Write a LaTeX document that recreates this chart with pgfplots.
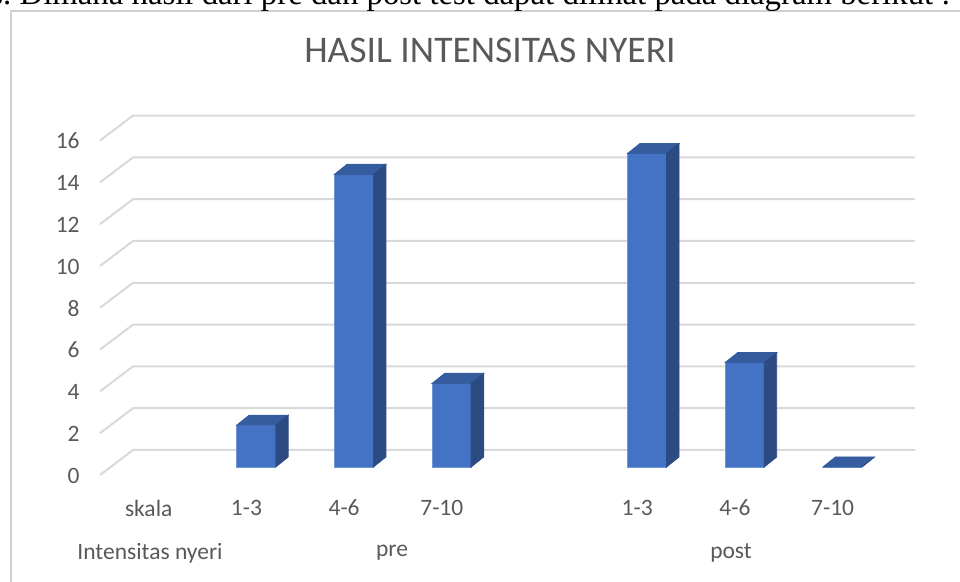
\documentclass[border=0pt]{standalone}
\usepackage{fontspec}
\setmainfont{Carlito}
\newfontfamily\timesf{Liberation Serif}
\usepackage{pgfplots}
\pgfplotsset{compat=1.18}
\usepackage{pgfplotstable}
\definecolor{frontc}{HTML}{4472C4}
\definecolor{sidec}{HTML}{2C4B82}
\definecolor{topc}{HTML}{345C9F}
\definecolor{edgec}{HTML}{7096D8}
\definecolor{gridc}{HTML}{D9D9D9}
\definecolor{labc}{HTML}{595959}
\definecolor{bordc}{HTML}{D0D0D0}

\pgfplotstableread{
x value
1 2
2 14
3 4
5 15
6 5
7 0
}\datatab

\begin{document}
\begin{tikzpicture}
\path[use as bounding box, clip] (0,0) rectangle (480pt,291pt);
\begin{axis}[
  at={(0,0)}, anchor=south west,
  scale only axis, width=480pt, height=291pt,
  xmin=-1.6223, xmax=8.2037,
  ymin=-5.5024, ymax=22.3445,
  clip=false,
  axis line style={draw=none},
  major tick length=0pt,
  xtick={0,1,2,3,4,5,6,7},
  xticklabels={skala,1-3,4-6,7-10,,1-3,4-6,7-10},
  ytick={0,2,4,6,8,10,12,14,16},
  tick label style={font=\fontsize{11.75pt}{14pt}\selectfont, text=labc, inner sep=0pt},
  /pgf/number format/assume math mode=true,
  yticklabel style={anchor=east, xshift=40pt, yshift=-4.25pt},
  xticklabel style={anchor=center, yshift=37pt, xshift=-4.9pt},
  title={HASIL INTENSITAS NYERI},
  title style={at={(axis description cs:0.5104,0.8935)}, anchor=center,
    font=\fontsize{18.8pt}{22pt}\selectfont, text=labc, inner sep=0pt},
]
% chart border
\draw[bordc, line width=1pt] (rel axis cs:0.01146,-0.05) -- (rel axis cs:0.01146,0.9811) -- (rel axis cs:1.05,0.9811);
% cut-off document text above the chart
\node[anchor=base west, inner sep=0pt, font=\timesf\fontsize{16.4pt}{19pt}\selectfont]
  at (rel axis cs:-0.0104,0.9914) {s.\ Dimana hasil dari pre dan post test dapat dilihat pada diagram berikut :};
% 3D gridlines
\pgfplotsinvokeforeach{0,2,...,16}{
  \draw[gridc, line width=1pt] (axis cs:-0.5988,{#1-0.383}) -- (axis cs:-0.2610,{#1+0.813}) -- (axis cs:7.7431,{#1+0.813});
}
% front faces
\addplot[ybar, bar width=19.5pt, bar shift=0pt, fill=frontc, draw=edgec, line width=0.4pt]
  table[x=x, y=value] {\datatab};
% top and side faces
\addplot[scatter, only marks, mark=text, text mark={},
  visualization depends on={\thisrow{value} \as \barval},
  scatter/@pre marker code/.code={
    \fill[topc] (-9.75pt,0pt) -- (9.75pt,0pt) -- (16pt,5pt) -- (-3.5pt,5pt) -- cycle;
    \fill[sidec] (9.75pt,0pt) -- (16pt,5pt) -- ++(axis direction cs:0,-\barval) -- ++(-6.25pt,-5pt) -- cycle;
  },
  scatter/@post marker code/.code={}]
  table[x=x, y=value] {\datatab};
% group labels
\node[font=\fontsize{11.75pt}{14pt}\selectfont, text=labc] at (axis cs:-0.087,-4.115) {Intensitas nyeri};
\node[font=\fontsize{11.75pt}{14pt}\selectfont, text=labc] at (axis cs:2.390,-4.115) {pre};
\node[font=\fontsize{11.75pt}{14pt}\selectfont, text=labc] at (axis cs:5.860,-4.115) {post};
\end{axis}
\end{tikzpicture}
\end{document}
